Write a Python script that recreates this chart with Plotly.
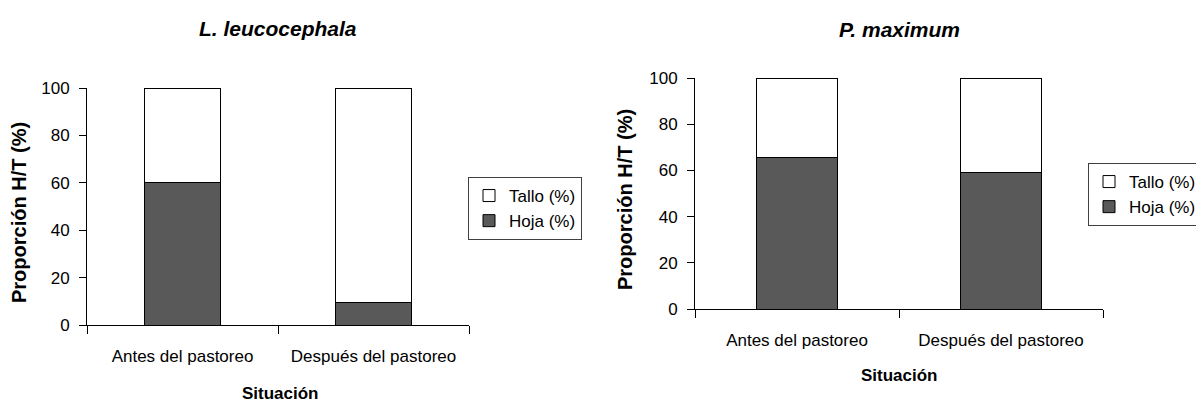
import plotly.graph_objects as go

categories = ["Antes del pastoreo", "Después del pastoreo"]
leuc_hoja = [60, 9.5]
leuc_tallo = [40, 90.5]
pmax_hoja = [65.5, 59]
pmax_tallo = [34.5, 41]
titles = ["L. leucocephala", "P. maximum"]
y_ticks = [0, 20, 40, 60, 80, 100]

FONT = "Liberation Sans, Arial, sans-serif"
DARK = "#595959"

fig = go.Figure()

def add_pair(hoja, tallo, xa, ya, legend):
    fig.add_trace(go.Bar(x=categories, y=hoja, name="Hoja (%)", xaxis=xa, yaxis=ya,
                         marker=dict(color=DARK, line=dict(color="#000000", width=1)),
                         width=0.4, legend=legend))
    fig.add_trace(go.Bar(x=categories, y=tallo, name="Tallo (%)", xaxis=xa, yaxis=ya,
                         marker=dict(color="#ffffff", line=dict(color="#000000", width=1)),
                         width=0.4, legend=legend))

add_pair(leuc_hoja, leuc_tallo, "x", "y", "legend")
add_pair(pmax_hoja, pmax_tallo, "x2", "y2", "legend2")

# page body has an 8px margin; figure occupies (8..1204, 8..402)
OFF = 8
W, H = 1204 - OFF, 402 - OFF
def px(x):
    return (x - OFF) / W
def py(y):
    return (402 - y) / H

xcommon = dict(type="category", range=[-0.5, 1.5], showline=True, linecolor="#000000", linewidth=1,
               ticks="outside", ticklen=8, tickcolor="#000000", tickson="boundaries",
               showgrid=False, zeroline=False, ticklabelstandoff=16,
               tickfont=dict(family=FONT, size=17, color="#000000"))
ycommon = dict(range=[0, 100], tickvals=y_ticks, showline=True, linecolor="#000000", linewidth=1,
               ticks="outside", ticklen=7, tickcolor="#000000", showgrid=False, zeroline=False,
               ticklabelstandoff=6, tickfont=dict(family=FONT, size=17, color="#000000"))

legcommon = dict(bgcolor="#ffffff", bordercolor="#404040", borderwidth=1,
                 font=dict(family=FONT, size=17, color="#000000"), traceorder="reversed",
                 xanchor="left", yanchor="top", itemwidth=30, tracegroupgap=0)

fig.update_layout(
    width=W, height=H, barmode="stack", bargap=0.6,
    paper_bgcolor="#ffffff", plot_bgcolor="#ffffff",
    margin=dict(l=0, r=0, t=0, b=0, autoexpand=False),
    font=dict(family=FONT, size=17, color="#000000"),
    xaxis=dict(domain=[px(87), px(469)], anchor="y", **xcommon),
    yaxis=dict(domain=[py(325), py(88)], anchor="x", **ycommon),
    xaxis2=dict(domain=[px(695), px(1103)], anchor="y2", **xcommon),
    yaxis2=dict(domain=[py(309), py(78)], anchor="x2", **ycommon),
    legend=dict(x=px(468), y=py(177), **legcommon),
    legend2=dict(x=px(1088), y=py(163), **legcommon),
    showlegend=True,
)

ann = []
ann.append(dict(text="<b><i>" + titles[0] + "</i></b>", x=px(278), y=py(28), xref="paper", yref="paper",
                showarrow=False, font=dict(family=FONT, size=21), xanchor="center", yanchor="middle"))
ann.append(dict(text="<b><i>" + titles[1] + "</i></b>", x=px(899), y=py(30), xref="paper", yref="paper",
                showarrow=False, font=dict(family=FONT, size=21), xanchor="center", yanchor="middle"))
ann.append(dict(text="<b>Situación</b>", x=px(280), y=py(393), xref="paper", yref="paper",
                showarrow=False, font=dict(family=FONT, size=17), xanchor="center", yanchor="middle"))
ann.append(dict(text="<b>Situación</b>", x=px(900), y=py(375), xref="paper", yref="paper",
                showarrow=False, font=dict(family=FONT, size=17), xanchor="center", yanchor="middle"))
ann.append(dict(text="<b>Proporción H/T (%)</b>", x=px(19), y=py(213), xref="paper", yref="paper",
                showarrow=False, textangle=-90, font=dict(family=FONT, size=20),
                xanchor="center", yanchor="middle"))
ann.append(dict(text="<b>Proporción H/T (%)</b>", x=px(625), y=py(200), xref="paper", yref="paper",
                showarrow=False, textangle=-90, font=dict(family=FONT, size=20),
                xanchor="center", yanchor="middle"))
fig.update_layout(annotations=ann)

fig.write_html("out.html")
